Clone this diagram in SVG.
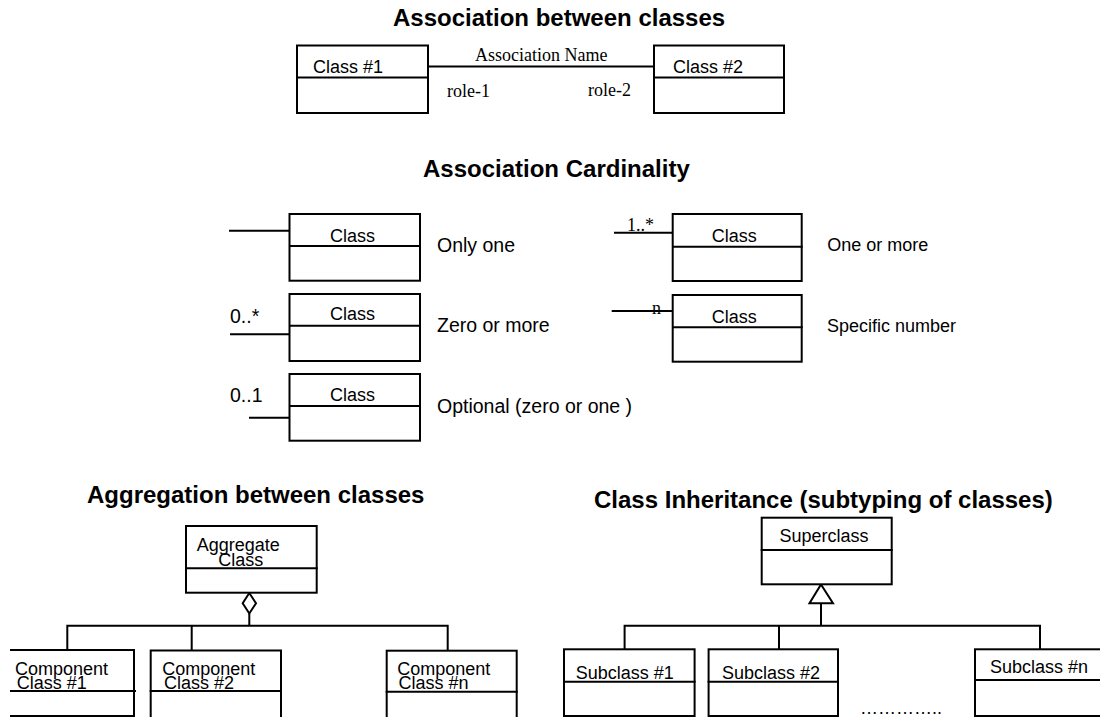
<svg xmlns="http://www.w3.org/2000/svg" width="1100" height="717" viewBox="0 0 1100 717">
<style>
.box{fill:#fff;stroke:#000;stroke-width:2}
.ln{fill:none;stroke:#000;stroke-width:2}
.sym{fill:#fff;stroke:#000;stroke-width:2}
.t{font-family:"Liberation Sans",Arial,sans-serif;font-size:18px;fill:#000}
.d{font-family:"Liberation Sans",Arial,sans-serif;font-size:19.5px;fill:#000}
.s{font-family:"Liberation Serif","Times New Roman",serif;font-size:18px;fill:#000}
.h{font-family:"Liberation Sans",Arial,sans-serif;font-size:24px;font-weight:bold;fill:#000}
</style>
<rect width="1100" height="717" fill="#fff"/>

<g id="titles">
<text class="h" x="393" y="26">Association between classes</text>
<text class="h" x="423" y="177">Association Cardinality</text>
<text class="h" x="87" y="503">Aggregation between classes</text>
<text class="h" x="594" y="508">Class Inheritance (subtyping of classes)</text>
</g>

<g id="connectors">
<line class="ln" x1="428" y1="66.5" x2="654" y2="66.5"/>
<line class="ln" x1="229" y1="230.7" x2="290" y2="230.7"/>
<line class="ln" x1="230" y1="334.3" x2="290" y2="334.3"/>
<line class="ln" x1="249" y1="417.7" x2="291" y2="417.7"/>
<line class="ln" x1="614" y1="232.7" x2="673" y2="232.7"/>
<line class="ln" x1="611.7" y1="311" x2="672" y2="311"/>
<path class="ln" d="M249.3,613.5 V625.7 M67.3,650 V625.7 H447.7 V650 M191.7,625.7 V650"/>
<polygon class="sym" points="249.3,593 256,603.3 249.3,613.5 242.7,603.3"/>
<path class="ln" d="M821,603.3 V625.7 M624.6,649.3 V625.7 H1040 V649.3 M779,625.7 V649.3"/>
<polygon class="sym" points="821,584.5 833,603.3 809.5,603.3"/>
<text class="s" x="475" y="61">Association Name</text>
<text class="s" x="447" y="97">role-1</text>
<text class="s" x="588" y="96">role-2</text>
<text class="d" x="230" y="322.7">0..*</text>
<text class="d" x="230" y="401.7">0..1</text>
<text class="s" x="627" y="230.5">1..*</text>
<text class="s" x="652" y="314">n</text>
</g>

<g id="class1">
<rect class="box" x="297" y="45.5" width="131" height="67.5"/>
<line class="ln" x1="297" y1="77.5" x2="429" y2="77.5"/>
<text class="t" x="313" y="73">Class #1</text>
</g>
<g id="class2">
<rect class="box" x="654" y="45.5" width="130" height="67.5"/>
<line class="ln" x1="653" y1="77.5" x2="785" y2="77.5"/>
<text class="t" x="673" y="73">Class #2</text>
</g>

<g id="card-only-one">
<rect class="box" x="289.5" y="214" width="130.5" height="66.7"/>
<line class="ln" x1="289" y1="246" x2="421" y2="246"/>
<text class="t" x="330" y="241.7">Class</text>
<text class="d" x="437" y="251.7">Only one</text>
</g>
<g id="card-zero-more">
<rect class="box" x="289.5" y="294" width="130.5" height="67"/>
<line class="ln" x1="289" y1="325.7" x2="421" y2="325.7"/>
<text class="t" x="330" y="320">Class</text>
<text class="d" x="437" y="331.7">Zero or more</text>
</g>
<g id="card-optional">
<rect class="box" x="289.5" y="374" width="130.5" height="66.7"/>
<line class="ln" x1="289" y1="406" x2="421" y2="406"/>
<text class="t" x="330" y="400.7">Class</text>
<text class="d" x="437" y="413.3">Optional (zero or one )</text>
</g>
<g id="card-one-more">
<rect class="box" x="672.7" y="214" width="129" height="67"/>
<line class="ln" x1="672" y1="246.7" x2="802.7" y2="246.7"/>
<text class="t" x="711.7" y="241.7">Class</text>
<text class="t" x="827.3" y="250.7">One or more</text>
</g>
<g id="card-specific">
<rect class="box" x="672.7" y="295" width="129" height="66.7"/>
<line class="ln" x1="672" y1="327.3" x2="802.7" y2="327.3"/>
<text class="t" x="711.7" y="322.7">Class</text>
<text class="t" x="827" y="331.7">Specific number</text>
</g>

<g id="aggregate">
<rect class="box" x="186" y="526" width="130.7" height="66.7"/>
<line class="ln" x1="185" y1="568.3" x2="317.7" y2="568.3"/>
<text class="t" x="196.7" y="550.7">Aggregate</text>
<text class="t" x="218.3" y="566">Class</text>
</g>
<g id="component1">
<path class="ln" d="M10,650 H134 V716 H10"/>
<line class="ln" x1="10" y1="691" x2="136" y2="691"/>
<text class="t" x="15" y="674.5">Component</text>
<text class="t" x="16.7" y="688.5">Class #1</text>
</g>
<g id="component2">
<rect class="box" x="150.7" y="650.5" width="130.3" height="68"/>
<line class="ln" x1="149.7" y1="691" x2="282" y2="691"/>
<text class="t" x="162.3" y="674.5">Component</text>
<text class="t" x="164" y="688.5">Class #2</text>
</g>
<g id="componentn">
<rect class="box" x="386.7" y="650.7" width="130" height="68"/>
<line class="ln" x1="385.7" y1="691.7" x2="517.7" y2="691.7"/>
<text class="t" x="397.3" y="674.5">Component</text>
<text class="t" x="398.5" y="689">Class #n</text>
</g>

<g id="superclass">
<rect class="box" x="761.7" y="517.7" width="130" height="66.6"/>
<line class="ln" x1="760.7" y1="550" x2="892.7" y2="550"/>
<text class="t" x="779.5" y="541.7">Superclass</text>
</g>
<g id="subclass1">
<rect class="box" x="564" y="649.3" width="130.6" height="66.7"/>
<line class="ln" x1="563" y1="681.7" x2="695.6" y2="681.7"/>
<text class="t" x="575.7" y="679">Subclass #1</text>
</g>
<g id="subclass2">
<rect class="box" x="708.6" y="649.3" width="129.4" height="66.7"/>
<line class="ln" x1="707.6" y1="681.7" x2="839" y2="681.7"/>
<text class="t" x="722" y="679">Subclass #2</text>
</g>
<g id="subclassn">
<rect class="box" x="975" y="649.3" width="130" height="66.7"/>
<line class="ln" x1="974" y1="680" x2="1106" y2="680"/>
<text class="t" x="990" y="673">Subclass #n</text>
</g>
<text class="t" x="860" y="713.5">…………..</text>
</svg>
